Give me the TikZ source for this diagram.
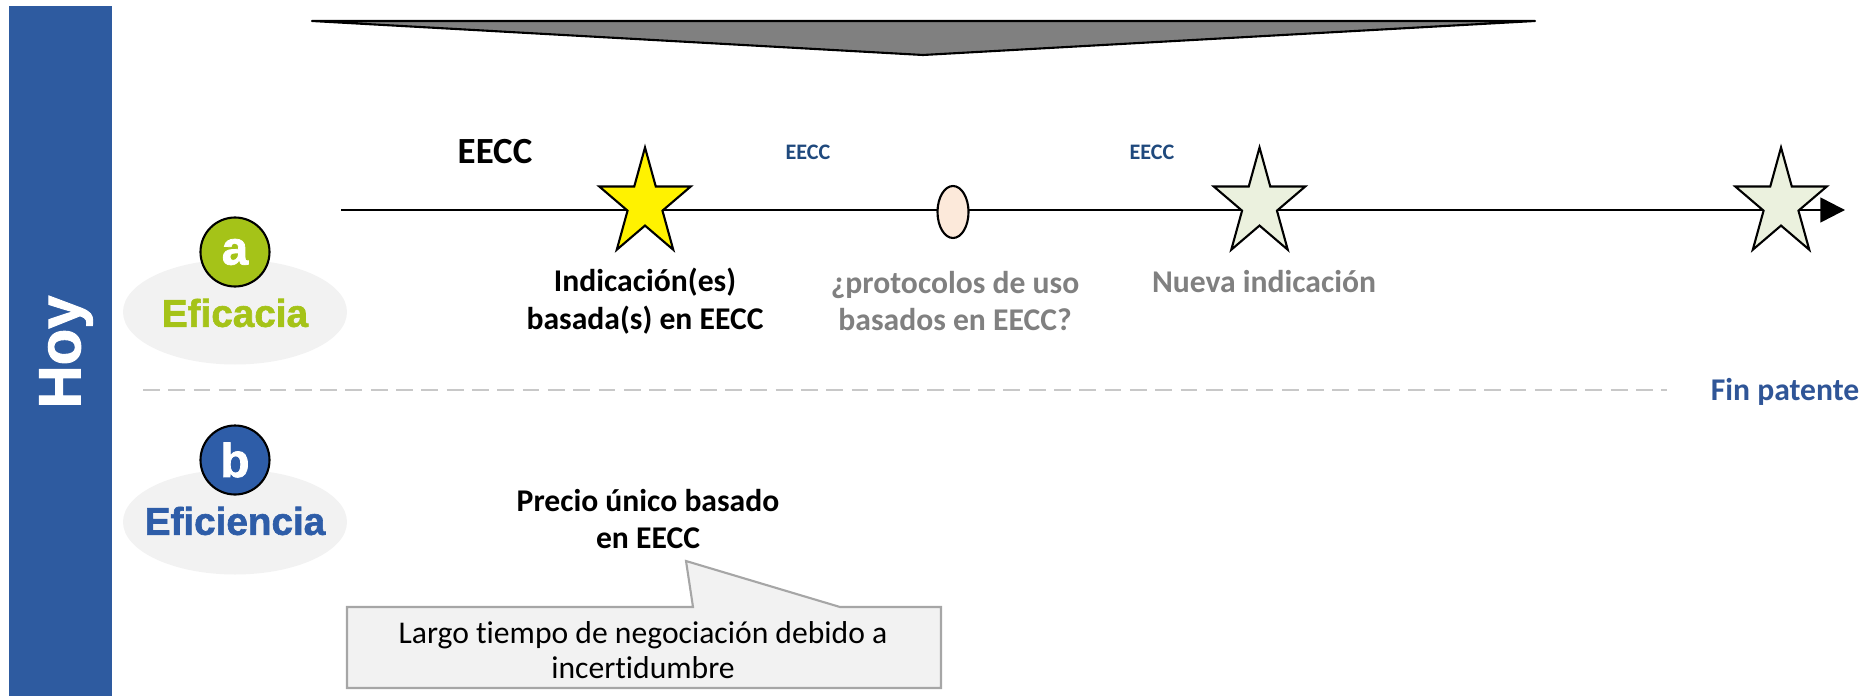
\documentclass[tikz,border=0pt]{standalone}
\usepackage{fontspec}
\setmainfont{Carlito}[Ligatures=NoCommon]
\newfontfamily\gruesa{Liberation Sans}[BoldFeatures={FakeBold=1.6}]
\usetikzlibrary{shapes.geometric,arrows.meta}
\definecolor{azulhoy}{HTML}{2E5BA0}
\definecolor{verdea}{HTML}{A5C318}
\definecolor{azulb}{HTML}{2E5DA8}
\definecolor{azuleecc}{HTML}{1F497D}
\definecolor{azulfin}{HTML}{2F5597}
\definecolor{grisfondo}{HTML}{F2F2F2}
\definecolor{grisraya}{HTML}{C8C8C8}
\definecolor{gristexto}{HTML}{808080}
\definecolor{grisborde}{HTML}{A6A6A6}
\definecolor{verdestar}{HTML}{EBF1DE}
\definecolor{melocoton}{HTML}{FCE9DA}

\begin{document}
\begin{tikzpicture}[x=1cm,y=-1cm,
    estrella/.style={star,star points=5,star point ratio=2.618,minimum size=1.13cm,
        inner sep=0pt,draw=black,line width=0.6pt,transform shape},
    fondo/.style={ellipse,fill=grisfondo,minimum width=2.24cm,minimum height=1.05cm},
    letra/.style={circle,draw=black,line width=0.6pt,minimum size=0.69cm,inner sep=0pt,
        text=white,font=\gruesa\bfseries\fontsize{13.5}{14}\selectfont},
    eje/.style={font=\gruesa\bfseries\fontsize{11}{12}\selectfont},
    hito/.style={align=center,font=\bfseries\fontsize{9}{10.8}\selectfont},
    eecc/.style={text=azuleecc,font=\bfseries\fontsize{6.3}{7}\selectfont}]
    \useasboundingbox (0,0) rectangle (18.66,6.96);

    % barra lateral
    \fill[azulhoy] (0.09,0.06) rectangle (1.12,6.96);
    \node[rotate=90,text=white,font=\gruesa\bfseries\fontsize{17}{18}\selectfont] (hoy) at (0.66,3.52) {Hoy};

    % triangulo superior
    \draw[fill=gray,line width=0.6pt,line join=round] (3.12,0.21) -- (15.35,0.21) -- (9.23,0.55) -- cycle;

    % linea de tiempo
    \coordinate (t0) at (3.41,2.10);
    \coordinate (t1) at (18.45,2.10);
    \draw[line width=0.7pt,-{Triangle[length=7pt,width=7pt]}] (t0) -- (t1);

    \begin{scope}[shift={(6.45,2.04)},xscale=0.85]
        \node[estrella,fill=yellow] (s1) at (0,0) {};
    \end{scope}
    \node[ellipse,draw=black,line width=0.6pt,fill=melocoton,minimum width=0.31cm,minimum height=0.52cm,inner sep=0pt] (ov) at (9.53,2.12) {};
    \begin{scope}[shift={(12.595,2.04)},xscale=0.85]
        \node[estrella,fill=verdestar] (s2) at (0,0) {};
    \end{scope}
    \begin{scope}[shift={(17.81,2.04)},xscale=0.85]
        \node[estrella,fill=verdestar] (s3) at (0,0) {};
    \end{scope}

    \node[font=\bfseries\fontsize{10.5}{12}\selectfont] (ee0) at (4.95,1.52) {EECC};
    \node[eecc] (ee1) at (8.08,1.52) {EECC};
    \node[eecc] (ee2) at (11.52,1.52) {EECC};

    \node[hito] (ind) at (6.45,3.01) {Indicación(es)\\basada(s) en EECC};
    \node[hito,text=gristexto] (prot) at (9.55,3.01) {¿protocolos de uso\\basados en EECC?};
    \node[hito,text=gristexto] (nueva) at (12.64,2.82) {Nueva indicación};

    % eficacia / eficiencia
    \node[fondo] (fa) at (2.35,3.12) {};
    \node[letra,fill=verdea] (a) at (2.35,2.52) {a};
    \node[eje,text=verdea] (efa) at (2.35,3.13) {Eficacia};

    \node[fondo] (fb) at (2.35,5.22) {};
    \node[letra,fill=azulb] (b) at (2.35,4.60) {b};
    \node[eje,text=azulb] (efb) at (2.35,5.21) {Eficiencia};

    % separacion
    \coordinate (d0) at (1.43,3.90);
    \coordinate (d1) at (16.67,3.90);
    \draw[grisraya,line width=0.6pt,dash pattern=on 4.8pt off 2.4pt] (d0) -- (d1);
    \node[hito,text=azulfin] (fin) at (17.85,3.92) {Fin patente};

    \node[hito] (precio) at (6.48,5.19) {Precio único basado\\en EECC};

    % bocadillo
    \draw[fill=grisfondo,draw=grisborde,line width=0.6pt]
        (3.47,6.07) -- (6.93,6.07) -- (6.86,5.61) -- (8.40,6.07) -- (9.41,6.07)
        -- (9.41,6.88) -- (3.47,6.88) -- cycle;
    \node[align=center,font=\fontsize{9}{10}\selectfont] (nego) at (6.43,6.50)
        {Largo tiempo de negociación debido a\\incertidumbre};
\end{tikzpicture}
\end{document}
